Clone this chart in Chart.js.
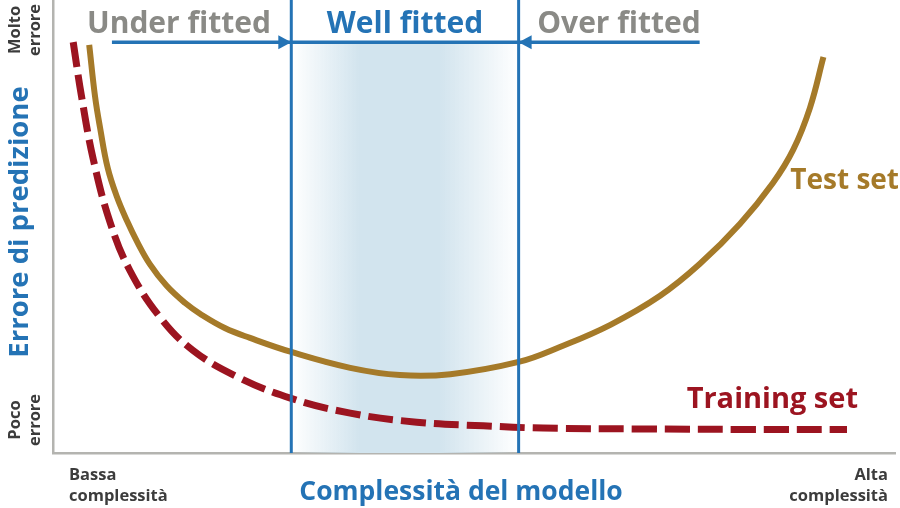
<!DOCTYPE html>
<html>
<head>
<meta charset="utf-8">
<script src="https://cdn.jsdelivr.net/npm/chart.js@4.4.0/dist/chart.umd.min.js"></script>
<style>
  html, body { margin: 0; padding: 0; background: #fff; }
</style>
</head>
<body>
<canvas id="myChart" width="900" height="508"></canvas>
<script>
// Complessità del modello (0-100) ed errore di predizione (0-100)
const complessitaTest = [4.3, 5.0, 5.6, 6.5, 7.6, 8.8, 10.0, 11.5, 13.5, 15.7, 17.5, 20.4, 23.4, 28.3, 35.3, 41.2, 47.2, 55.3, 60.2, 66.2, 72.1, 76.8, 81.6, 85.5, 87.9, 89.9, 91.5];
const erroreTest = [90.1, 78.6, 71.7, 62.9, 56.5, 51.2, 46.6, 41.7, 36.9, 33.1, 30.7, 27.6, 25.4, 22.3, 18.8, 17.2, 17.4, 20.1, 23.4, 28.3, 34.7, 41.7, 50.6, 59.6, 66.9, 76.2, 87.4];

const complessitaTraining = [2.4, 3.4, 4.8, 6.8, 9.1, 12.7, 16.6, 21.9, 28.2, 35.3, 43.2, 51.1, 58.2, 70.9, 82.8, 94.3];
const erroreTraining = [90.7, 78.6, 64.7, 50.8, 40.4, 30.0, 22.7, 16.8, 12.1, 8.8, 6.8, 6.0, 5.5, 5.3, 5.2, 5.2];

// zona "Well fitted" e frecce in alto
const confini = [28.3, 55.3];
const zone = ['Under fitted', 'Well fitted', 'Over fitted'];
const inizioFrecce = [7.0, 76.8];
const altezzaFrecce = 90.7;

const BLU = '#2473b5';
const GRIGIO = '#8a8a86';
const ORO = '#a57a29';
const ROSSO = '#9c1420';
const SCURO = '#3c3c3c';
const FONT = '"Open Sans", "Noto Sans", sans-serif';

function punti(xs, ys) {
    return xs.map((v, i) => ({ x: v, y: ys[i] }));
}

function testo(ctx, str, x, y, font, color, align, rot) {
    ctx.save();
    ctx.translate(x, y);
    if (rot) ctx.rotate(rot);
    ctx.font = font;
    ctx.fillStyle = color;
    ctx.textAlign = align || 'center';
    ctx.textBaseline = 'alphabetic';
    ctx.fillText(str, 0, 0);
    ctx.restore();
}

const decorazioni = {
    id: 'decorazioni',
    beforeDatasetsDraw(chart) {
        const { ctx, chartArea, scales: { x, y } } = chart;
        const x0 = x.getPixelForValue(confini[0]);
        const x1 = x.getPixelForValue(confini[1]);
        const yTop = y.getPixelForValue(altezzaFrecce);
        const g = ctx.createLinearGradient(x0, 0, x1, 0);
        g.addColorStop(0, 'rgba(210,228,238,0)');
        g.addColorStop(0.3, 'rgba(210,228,238,1)');
        g.addColorStop(0.65, 'rgba(210,228,238,1)');
        g.addColorStop(1, 'rgba(210,228,238,0)');
        ctx.save();
        ctx.fillStyle = g;
        ctx.fillRect(x0, yTop, x1 - x0, chartArea.bottom - yTop);
        ctx.restore();
    },
    afterDatasetsDraw(chart) {
        const { ctx, chartArea, scales: { x, y } } = chart;
        const x0 = x.getPixelForValue(confini[0]);
        const x1 = x.getPixelForValue(confini[1]);
        const ya = y.getPixelForValue(altezzaFrecce);
        const xa = x.getPixelForValue(inizioFrecce[0]);
        const xb = x.getPixelForValue(inizioFrecce[1]);
        ctx.save();
        ctx.strokeStyle = BLU;
        ctx.fillStyle = BLU;
        // linee verticali
        ctx.lineWidth = 3;
        [x0, x1].forEach(px => {
            ctx.beginPath();
            ctx.moveTo(px, chartArea.top);
            ctx.lineTo(px, chartArea.bottom);
            ctx.stroke();
        });
        // linea orizzontale delle frecce
        ctx.lineWidth = 3.5;
        ctx.beginPath();
        ctx.moveTo(xa, ya);
        ctx.lineTo(xb, ya);
        ctx.stroke();
        // punte
        ctx.beginPath();
        ctx.moveTo(x0, ya);
        ctx.lineTo(x0 - 13, ya - 7);
        ctx.lineTo(x0 - 13, ya + 7);
        ctx.closePath();
        ctx.fill();
        ctx.beginPath();
        ctx.moveTo(x1, ya);
        ctx.lineTo(x1 + 13, ya - 7);
        ctx.lineTo(x1 + 13, ya + 7);
        ctx.closePath();
        ctx.fill();
        ctx.restore();

        const big = 'bold 30px ' + FONT;
        testo(ctx, zone[0], 179, 33, big, GRIGIO);
        testo(ctx, zone[1], 405, 33, big, BLU);
        testo(ctx, zone[2], 619, 33, big, GRIGIO);

        testo(ctx, 'Test set', 899, 189, 'bold 28px ' + FONT, ORO, 'right');
        testo(ctx, 'Training set', 858, 408, 'bold 29px ' + FONT, ROSSO, 'right');
    },
    afterDraw(chart) {
        const { ctx } = chart;
        const small = 'bold 16.5px ' + FONT;
        const r = -Math.PI / 2;
        // asse y
        testo(ctx, 'Molto', 20, 30, small, SCURO, 'center', r);
        testo(ctx, 'errore', 40, 30, small, SCURO, 'center', r);
        testo(ctx, 'Poco', 20, 420, small, SCURO, 'center', r);
        testo(ctx, 'errore', 40, 420, small, SCURO, 'center', r);
        testo(ctx, 'Errore di predizione', 28, 222, 'bold 27.5px ' + FONT, BLU, 'center', r);
        // asse x
        testo(ctx, 'Bassa', 69, 480, small, SCURO, 'left');
        testo(ctx, 'complessità', 69, 501, small, SCURO, 'left');
        testo(ctx, 'Alta', 888, 480, small, SCURO, 'right');
        testo(ctx, 'complessità', 888, 501, small, SCURO, 'right');
        testo(ctx, 'Complessità del modello', 461, 500, 'bold 26.5px ' + FONT, BLU, 'center');
    }
};

const ctx = document.getElementById('myChart').getContext('2d');
const myChart = new Chart(ctx, {
    type: 'line',
    data: {
        datasets: [{
            label: 'Test set',
            data: punti(complessitaTest, erroreTest),
            borderColor: ORO,
            borderWidth: 6,
            tension: 0.4,
            pointRadius: 0,
            fill: false
        },
        {
            label: 'Training set',
            data: punti(complessitaTraining, erroreTraining),
            borderColor: ROSSO,
            borderWidth: 7,
            borderDash: [25, 8],
            borderCapStyle: 'butt',
            tension: 0.4,
            pointRadius: 0,
            fill: false
        }]
    },
    options: {
        responsive: false,
        animation: false,
        layout: {
            padding: { left: 53, right: 5, top: 0, bottom: 55 }
        },
        plugins: {
            legend: { display: false },
            tooltip: { enabled: false }
        },
        scales: {
            x: {
                type: 'linear',
                min: 0,
                max: 100,
                grid: { display: false, drawTicks: false },
                ticks: { display: false },
                border: { color: '#b4b4b0', width: 2.5 }
            },
            y: {
                min: 0,
                max: 100,
                grid: { display: false, drawTicks: false },
                ticks: { display: false },
                border: { color: '#b4b4b0', width: 2.5 }
            }
        }
    },
    plugins: [decorazioni]
});
</script>
</body>
</html>
